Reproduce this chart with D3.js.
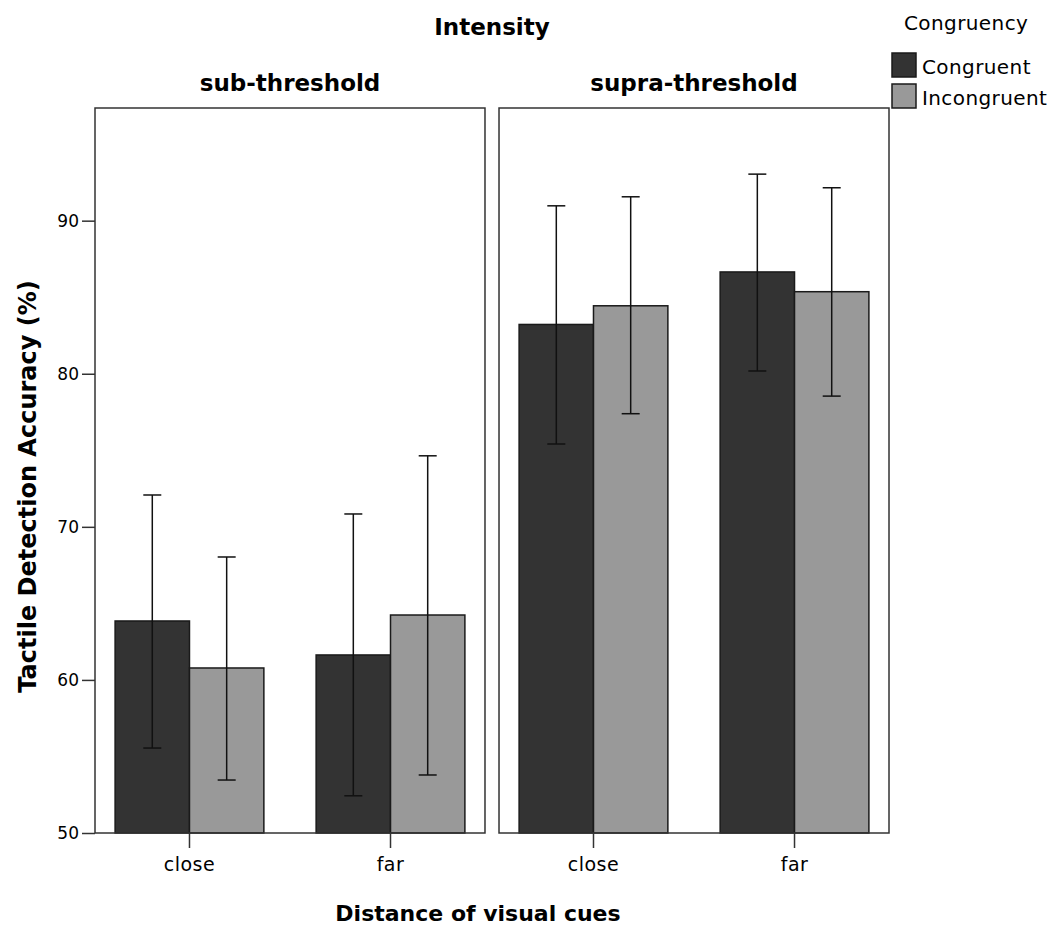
<!DOCTYPE html>
<html>
<head>
<meta charset="utf-8">
<script src="https://cdn.jsdelivr.net/npm/d3@7"></script>
<style>
  body { margin: 0; background: #fff; }
  svg text { font-family: "DejaVu Sans", sans-serif; fill: #000; }
</style>
</head>
<body>
<svg id="chart" width="1061" height="926"></svg>
<script>
const intensities = ["sub-threshold", "supra-threshold"];
const distances = ["close", "far"];
const congruency = ["Congruent", "Incongruent"];
const yTicks = [50, 60, 70, 80, 90];

// means, per intensity, per distance (close, far)
const subCongruent = [63.85, 61.63];
const subIncongruent = [60.78, 64.24];
const supraCongruent = [83.22, 86.65];
const supraIncongruent = [84.44, 85.36];

// error bar ends (low, high)
const subCongruentLow = [55.55, 52.43];
const subCongruentHigh = [72.08, 70.84];
const subIncongruentLow = [53.46, 53.79];
const subIncongruentHigh = [68.03, 74.64];
const supraCongruentLow = [75.41, 80.18];
const supraCongruentHigh = [90.97, 93.04];
const supraIncongruentLow = [77.39, 78.54];
const supraIncongruentHigh = [91.56, 92.15];

const colors = { "Congruent": "#333333", "Incongruent": "#999999" };

const rows = [];
const build = (intensity, group, means, lows, highs) => {
  distances.forEach((d, i) => rows.push({ intensity, group, distance: d, mean: means[i], low: lows[i], high: highs[i] }));
};
build("sub-threshold", "Congruent", subCongruent, subCongruentLow, subCongruentHigh);
build("sub-threshold", "Incongruent", subIncongruent, subIncongruentLow, subIncongruentHigh);
build("supra-threshold", "Congruent", supraCongruent, supraCongruentLow, supraCongruentHigh);
build("supra-threshold", "Incongruent", supraIncongruent, supraIncongruentLow, supraIncongruentHigh);

const svg = d3.select("#chart");

const plotTop = 108, plotBottom = 833;
const y = d3.scaleLinear().domain([50, 97.36]).range([plotBottom, plotTop]);

const facet = d3.scaleBand().domain(intensities).range([95, 889]).paddingInner(0.0347);
const x = d3.scaleBand().domain(distances).range([0, facet.bandwidth()]).paddingInner(0.26).paddingOuter(0.1);
const xg = d3.scaleBand().domain(congruency).range([0, x.bandwidth()]);

// titles
svg.append("text")
  .attr("x", (facet.range()[0] + facet.range()[1]) / 2)
  .attr("y", 35)
  .attr("text-anchor", "middle")
  .style("font-weight", "bold")
  .style("font-size", "23px")
  .text("Intensity");

const panels = svg.selectAll("g.panel")
  .data(intensities)
  .enter()
  .append("g")
  .attr("class", "panel")
  .attr("transform", d => `translate(${facet(d)},0)`);

panels.append("text")
  .attr("x", facet.bandwidth() / 2)
  .attr("y", 91)
  .attr("text-anchor", "middle")
  .style("font-weight", "bold")
  .style("font-size", "23px")
  .text(d => d);

// bars
panels.each(function(intensity) {
  const g = d3.select(this);
  const data = rows.filter(r => r.intensity === intensity);

  g.selectAll("rect.bar")
    .data(data)
    .enter()
    .append("rect")
    .attr("class", "bar")
    .attr("x", d => x(d.distance) + xg(d.group))
    .attr("y", d => y(d.mean))
    .attr("width", xg.bandwidth())
    .attr("height", d => y(50) - y(d.mean))
    .attr("fill", d => colors[d.group])
    .attr("stroke", "#1a1a1a")
    .attr("stroke-width", 1.5);

  const cx = d => x(d.distance) + xg(d.group) + xg.bandwidth() / 2;
  const err = g.selectAll("g.err").data(data).enter().append("g").attr("class", "err")
    .attr("stroke", "#111").attr("stroke-width", 1.5);
  err.append("line").attr("x1", cx).attr("x2", cx).attr("y1", d => y(d.low)).attr("y2", d => y(d.high));
  err.append("line").attr("x1", d => cx(d) - 9).attr("x2", d => cx(d) + 9).attr("y1", d => y(d.high)).attr("y2", d => y(d.high));
  err.append("line").attr("x1", d => cx(d) - 9).attr("x2", d => cx(d) + 9).attr("y1", d => y(d.low)).attr("y2", d => y(d.low));

  // panel frame
  g.append("rect")
    .attr("x", 0).attr("y", plotTop)
    .attr("width", facet.bandwidth()).attr("height", plotBottom - plotTop)
    .attr("fill", "none").attr("stroke", "#333").attr("stroke-width", 1.5);

  // x axis
  const xAxis = g.append("g")
    .attr("transform", `translate(0,${plotBottom})`)
    .call(d3.axisBottom(x).tickSize(15).tickPadding(10));
  xAxis.select(".domain").remove();
  xAxis.selectAll(".tick line").attr("stroke", "#333").attr("stroke-width", 1.5);
  xAxis.selectAll("text").style("font-size", "19px").style("letter-spacing", "0.5px").attr("fill", "#222");
});

// y axis on first panel
const yAxis = svg.append("g")
  .attr("transform", `translate(${facet(intensities[0])},0)`)
  .call(d3.axisLeft(y).tickValues(yTicks).tickSize(13).tickPadding(3));
yAxis.select(".domain").remove();
yAxis.selectAll(".tick line").attr("stroke", "#333").attr("stroke-width", 1.5);
yAxis.selectAll("text").style("font-size", "17px").attr("fill", "#222");

// axis titles
svg.append("text")
  .attr("transform", `translate(36,${(plotTop + plotBottom) / 2 + 16}) rotate(-90)`)
  .attr("text-anchor", "middle")
  .style("font-weight", "bold")
  .style("font-size", "24px")
  .text("Tactile Detection Accuracy (%)");

svg.append("text")
  .attr("x", 478)
  .attr("y", 921)
  .attr("text-anchor", "middle")
  .style("font-weight", "bold")
  .style("font-size", "22px")
  .text("Distance of visual cues");

// legend
svg.append("text")
  .attr("x", 904).attr("y", 30)
  .style("font-size", "20px").style("letter-spacing", "0.4px").attr("fill", "#222")
  .text("Congruency");

const legend = svg.selectAll("g.legend")
  .data(congruency)
  .enter()
  .append("g")
  .attr("class", "legend")
  .attr("transform", (d, i) => `translate(892,${53 + i * 31})`);
legend.append("rect")
  .attr("width", 24).attr("height", 24)
  .attr("fill", d => colors[d])
  .attr("stroke", "#1a1a1a").attr("stroke-width", 1.5);
legend.append("text")
  .attr("x", 30).attr("y", 21)
  .style("font-size", "20px").style("letter-spacing", "0.4px").attr("fill", "#222")
  .text(d => d);
</script>
</body>
</html>
